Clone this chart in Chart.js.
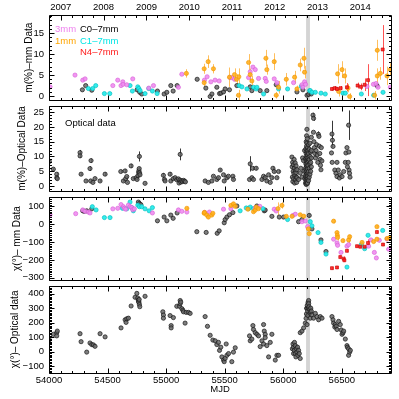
<!DOCTYPE html>
<html>
<head>
<meta charset="utf-8">
<script src="https://cdn.jsdelivr.net/npm/chart.js@4"></script>
<style>
html,body{margin:0;padding:0;background:#fff;}
#wrap{position:relative;width:399px;height:399px;overflow:hidden;}
canvas{position:absolute;left:0;}
</style>
</head>
<body>
<div id="wrap">
  <canvas id="c4" width="399" height="124" style="top:275px"></canvas>
  <canvas id="c3" width="399" height="105" style="top:186px"></canvas>
  <canvas id="c2" width="399" height="107" style="top:95px"></canvas>
  <canvas id="c1" width="399" height="111" style="top:0px"></canvas>
</div>
<script>
/* ---------- AXES ---------- */
const mjdMin = 54000, mjdMax = 56920;
const mjdTicks = [54000, 54500, 55000, 55500, 56000, 56500];
const yearLabels = ["2007","2008","2009","2010","2011","2012","2013","2014"];
const yearMJD = [54101, 54466, 54832, 55197, 55562, 55927, 56293, 56658];
const flareBand = [56195, 56228];

/* ---------- PANEL 1 : m(%) mm  [MJD, m, err] ---------- */
const pol3mm = [[54009,2.2],[54222,5.0],[54288,3.8],[54308,4.1],[54545,2.5],[54587,3.8],[54615,2.5],[54630,3.4],[54632,2.8],[54664,2.7],[54715,4.1],[54852,1.9],[54892,2.5],[55105,2.1],[55134,5.2],[55327,3.8],[55350,4.6],[55382,3.4],[55418,3.8],[55453,3.6],[55547,4.4],[55561,4.4],[55584,4.0],[55704,4.4],[55718,5.8],[55741,6.9],[55761,6.3],[55789,4.2],[55846,4.2],[55855,3.5],[55923,4.1],[55946,3.2],[56088,3.2],[56160,2.7],[56168,2.1],[56182,3.4],[56190,2.8],[56715,2.3],[56770,2.8],[56792,3.0],[56809,2.1],[56914,2.1]];
const pol1mm = [[55173,5.4,1.0],[55325,6.5,1.2],[55325,3.2,0.8],[55359,8.2,1.5],[55404,6.5,1.1],[55541,4.5,2.3],[55584,5.1,1.5],[55601,4.0,1.2],[55621,4.6,2.0],[55618,0.2,1.3],[55704,8.0,2.0],[55718,5.1,1.5],[55732,3.6,1.2],[55852,9.0,2.0],[55860,6.3,1.2],[55923,8.2,2.0],[55940,0.2,0.8],[55960,2.1,1.5],[56026,4.0,1.5],[56097,4.5,1.5],[56117,1.7,0.8],[56145,7.4,1.5],[56177,9.0,2.5],[56182,5.7,1.5],[56464,5.3,2.3],[56473,1.1,1.2],[56502,6.3,2.0],[56524,4.8,1.8],[56553,1.9,1.0],[56567,-0.1,0.8],[56780,0.2,1.0],[56803,4.8,1.8],[56803,10.9,2.5],[56829,5.4,1.5],[56886,4.8,2.2],[56915,6.3,1.5]];
const polC0 = [[54285,1.5],[54313,2.5],[54365,1.4],[54752,1.5],[54775,0.9],[54792,0.5],[54926,1.2],[54983,0.5],[55006,0.9],[55040,2.5],[55060,1.2],[55094,2.5],[55265,4.0],[55339,1.9],[55376,-0.1],[55391,0.5],[55433,2.1],[55456,0.6],[55468,0.7],[55490,1.0],[55504,1.7],[55541,1.5],[55604,2.5],[55718,2.2],[55732,1.3],[55803,1.3],[55860,1.3],[55940,2.7],[56117,1.0],[56168,1.5],[56203,0.2],[56217,0.4],[56239,0.5],[56800,2.5]];
const polC1 = [[54336,1.8],[54373,1.8],[54399,2.5],[54473,0.6],[54519,0.6],[54692,2.5],[54712,1.2],[54758,2.2],[54767,1.8],[54778,1.3],[54820,0.6],[54852,1.8],[54883,1.2],[54923,0.6],[55624,2.5],[55647,2.2],[55690,1.7],[55746,2.1],[55769,1.7],[55775,2.1],[55832,0.5],[55960,1.7],[56037,1.7],[56154,2.3],[56225,1.3],[56231,1.3],[56245,0.9],[56274,0.9],[56322,0.7],[56359,0.5],[56510,0.7],[56530,0.7],[56667,0.5],[56772,0.2],[56852,0.9]];
const polN4 = [[56416,1.7,0.4],[56440,1.9,0.5],[56459,1.7,0.5],[56490,1.9,0.5],[56544,2.1,1.0],[56635,2.5,0.7],[56664,2.2,0.8],[56695,2.7,1.5],[56724,3.8,3.8],[56849,11.1,5.8]];

/* ---------- PANEL 2 : m(%) optical ---------- */
const optPolA = [[54003,8.3,1.1],[54037,5.7,0.3],[54066,4.0,0.6],[54066,2.8,0.5],[54071,2.5,0.6],[54265,11.3,0.9],[54265,10.2,0.7],[54274,4.0,0.3],[54316,1.7,0.2],[54350,5.9,0.8],[54359,8.6,0.7],[54356,1.7,0.2],[54375,1.2,0.2],[54393,2.5,0.3],[54436,1.7,0.3],[54479,4.0,0.6],[54613,4.9,0.5],[54650,5.1,0.6],[54635,1.7,0.3],[54655,2.5,0.3],[54664,3.2,0.3],[54670,1.2,0.2],[54701,6.8,0.7],[54720,2.5,0.3],[54745,2.8,0.3],[54752,2.2,0.3],[54760,3.5,0.4],[54765,4.6,0.4],[54768,5.2,0.4],[54770,5.9,0.5],[54774,4.4,0.4],[54777,3.8,0.4],[54772,10.0,1.7],[54820,0.9,0.2]];
const optPolB = [[54977,3.6,0.8],[54986,2.2,0.3],[54991,1.7,0.3],[55034,4.0,0.7],[55040,1.7,0.3],[55062,2.5,0.3],[55077,2.8,0.3],[55091,2.1,0.3],[55105,2.4,0.3],[55110,1.0,0.2],[55118,2.0,0.3],[55120,10.7,2.0],[55125,1.3,0.2],[55132,1.8,0.2],[55140,1.5,0.2],[55150,1.9,0.2],[55158,1.6,0.2],[55165,1.4,0.2],[55333,1.7,0.2],[55361,1.2,0.2],[55391,1.7,0.2],[55404,3.3,0.3],[55433,2.2,0.3],[55447,2.8,0.3],[55462,5.4,0.5],[55490,3.8,0.4],[55496,1.7,0.2],[55519,2.8,0.3],[55532,3.3,0.3],[55570,3.3,0.3],[55575,2.2,0.3],[55712,2.2,0.3],[55718,7.5,2.6],[55732,2.8,0.3],[55738,6.0,0.6],[55746,2.2,0.3],[55769,6.0,0.6],[55818,2.2,0.3],[55832,3.3,0.4],[55846,2.8,0.3],[55860,1.7,0.3],[55875,3.8,0.4],[55889,1.2,0.2],[55903,2.8,0.4],[55912,6.0,0.6],[55923,4.9,0.5],[55946,2.8,0.3],[55960,4.9,0.5]];
const optPolC = [[56074,9.8],[56076,6.5],[56078,3.0],[56080,8.0],[56082,1.5],[56085,5.0],[56087,7.2],[56089,2.5],[56091,4.2],[56093,9.0],[56095,6.0],[56097,1.0],[56100,3.5],[56102,7.8],[56104,5.2],[56106,2.2],[56108,4.5],[56110,6.8],[56112,3.0],[56114,1.2],[56116,5.5],[56118,2.8],[56131,2.2],[56145,4.4],[56150,6.0],[56160,3.0],[56165,9.5],[56173,8.6],[56178,5.0],[56182,12.0],[56185,2.5],[56190,1.0],[56190,3.5],[56190,6.0],[56190,9.2],[56193,2.0],[56193,4.8],[56193,7.5],[56193,12.5],[56196,0.5],[56196,3.0],[56196,5.5],[56196,8.5],[56196,11.0],[56196,15.0],[56199,1.5],[56199,4.0],[56199,6.8],[56199,10.0],[56199,13.5],[56199,17.0],[56202,0.8],[56202,2.5],[56202,5.0],[56202,7.5],[56202,9.5],[56202,12.0],[56202,14.5],[56202,19.2],[56205,2.0],[56205,4.2],[56205,6.5],[56205,8.8],[56205,11.5],[56205,16.0],[56208,1.0],[56208,3.2],[56208,5.8],[56208,8.0],[56208,10.5],[56208,13.0],[56212,2.5],[56212,4.5],[56212,7.0],[56212,9.5],[56212,12.0],[56216,1.8],[56216,5.0],[56216,8.5],[56216,11.0],[56216,14.0],[56222,3.0],[56222,6.0],[56222,9.0],[56222,12.5],[56228,4.0],[56228,7.5],[56228,10.0],[56228,14.5],[56234,5.0],[56234,8.0],[56234,11.5],[56240,6.5],[56240,9.5],[56240,12.0],[56240,16.5]];
const optPolD = [[56254,24.0,0.8],[56259,22.9,0.8],[56258,18.2],[56262,15.0],[56266,13.0],[56270,11.0],[56275,9.5],[56280,12.0],[56285,14.0],[56290,10.5],[56295,8.0],[56300,17.5,1.0],[56305,16.8],[56308,13.5],[56312,11.0],[56315,9.0],[56318,7.0],[56322,5.5],[56325,13.0],[56330,8.5],[56416,17.6,4.5],[56420,15.5],[56425,13.4],[56412,11.2],[56418,8.0],[56440,5.4],[56450,4.3],[56459,3.2],[56470,5.4],[56459,8.0],[56480,2.7],[56487,3.8],[56502,3.2],[56516,4.9],[56530,8.0],[56535,11.2],[56544,13.0],[56558,20.6,5.0],[56560,11.5],[56555,8.0],[56562,5.4],[56566,4.3],[56570,3.0],[56548,6.5]];

/* ---------- PANEL 3 : EVPA mm ---------- */
const evpa3mm = [[54009,53],[54228,59],[54288,80],[54308,72],[54336,68],[54350,63],[54545,86],[54587,89],[54615,110],[54635,98],[54644,89],[54655,84],[54678,107],[54692,98],[54707,93],[54715,81],[54729,86],[54883,63],[55105,80],[55134,72],[55177,68],[55330,66],[55370,68],[55490,84],[55553,87],[55760,90],[55800,100],[55923,84],[55940,74],[56083,49],[56103,56],[56160,14],[56188,18],[56208,-14],[56430,-84],[56459,-105],[56464,-118],[56493,-158],[56544,-123],[56558,-114],[56729,-123],[56749,-88],[56778,-158],[56795,-189],[56820,-90],[56886,-83],[56900,-140]];
const evpa1mm = [[55177,89,8],[55325,61,8],[55327,66,6],[55347,51,8],[55361,40,8],[55390,51,8],[55399,61,8],[55553,105,6],[55575,114,8],[55590,100,6],[55698,84,6],[55746,70,8],[55761,79,6],[55769,96,6],[55789,87,8],[55955,87,35],[55989,105,18],[56026,44,8],[56075,44,6],[56145,53,8],[56175,45,8],[56215,-26,8],[56222,-53,8],[56430,17,12],[56459,-47,10],[56462,-62,10],[56464,-74,18],[56510,-92,9],[56558,-88,28],[56567,-70,10],[56673,-102,8],[56772,-97,8],[56800,-14,8],[56800,-84,8],[56886,-80,8],[56910,-75,8]];
const evpaC0 = [[54288,75],[54301,72],[54322,75],[54365,86],[54763,124],[54772,116],[54784,110],[54926,19],[54983,40],[55006,19],[55040,51],[55060,33],[55094,63],[55262,-42],[55342,-46],[55436,-51],[55453,-37],[55496,8],[55504,26],[55519,40],[55541,53],[55570,65],[55604,102],[55775,102],[55838,75],[55846,79],[55903,44],[55966,40],[56003,40],[56131,14],[56160,26],[56222,49,10],[56245,-26],[56322,-88],[56365,-153]];
const evpaC1 = [[54370,98],[54402,80],[54473,37],[54521,37],[54627,89],[54664,86],[54692,124],[54707,93],[54720,75],[54758,107],[54772,98],[54792,98],[54820,86],[54855,75],[54883,93],[55632,75],[55684,91],[55704,87],[55718,96],[55746,87],[55826,87],[56037,26],[56231,14],[56245,-9],[56297,-47],[56322,-102],[56365,-167],[56544,-240],[56667,-114],[56695,-137],[56724,-62],[56849,-35]];
const evpaN4 = [[56416,-246,6],[56459,-242,6],[56487,-184,8],[56516,-193,12],[56522,-202,10],[56544,-149,8],[56630,-123,6],[56658,-126,6],[56695,-126,6],[56724,-105,20],[56800,-44,8],[56852,-114,6]];

/* ---------- PANEL 4 : EVPA optical ---------- */
const optEvpaA = [[54003,82],[54037,120],[54066,131],[54066,109],[54071,142],[54265,124],[54274,69],[54322,-3],[54350,60],[54365,49],[54379,47],[54393,37],[54436,124],[54479,102],[54615,164],[54650,220],[54658,202],[54664,227],[54678,231],[54701,315],[54735,375],[54750,402],[54758,370],[54763,355],[54765,345],[54768,340],[54770,360],[54772,325],[54775,310],[54820,382]];
const optEvpaB = [[54972,275],[54977,253],[54977,231],[55034,249],[55043,180],[55043,164],[55062,235],[55091,313],[55114,313],[55120,353],[55120,331],[55125,342],[55134,297],[55143,286],[55148,275],[55162,197],[55171,271],[55191,271],[55205,264],[55333,242],[55353,175],[55376,113],[55399,80],[55419,75],[55433,49],[55447,64],[55456,9],[55467,31],[55476,-36],[55490,-58],[55496,-69],[55504,-47],[55513,53],[55519,-25],[55533,-13],[55561,-69],[55575,-3],[55590,27]];
const optEvpaC = [[55712,109],[55718,75],[55732,87],[55741,180],[55746,153],[55761,131],[55775,120],[55789,109],[55803,35],[55818,75],[55832,187],[55838,142],[55846,120],[55846,97],[55832,53],[55860,42],[55875,-36],[55889,64],[55903,120],[55932,-58],[55946,-25],[55960,-25]];
const optEvpaD = [[56078,20],[56083,53],[56088,31],[56088,-13],[56094,9],[56096,64],[56103,42],[56103,-13],[56108,-36],[56111,20],[56117,-3],[56122,31],[56125,-25],[56131,9],[56137,-13],[56145,-47],[56145,131],[56160,142],[56174,164],[56188,197],[56195,230],[56198,260],[56200,300],[56203,297],[56203,187],[56205,320],[56208,280],[56210,250],[56212,340],[56215,300],[56217,353],[56217,331],[56220,310],[56225,290],[56228,265],[56231,275],[56231,231],[56235,300],[56240,280],[56245,253],[56259,231],[56274,264],[56288,242],[56302,220],[56316,242],[56331,231]];
const optEvpaE = [[56416,242],[56425,220],[56430,197],[56440,170],[56444,187],[56452,175],[56459,153],[56473,209],[56487,187],[56495,150],[56502,120],[56510,130],[56516,142],[56530,87],[56544,42],[56548,30],[56558,20],[56558,-25],[56567,-3],[56573,9]];

/* ---------- STYLES ---------- */
const C_VIOLET = "#ee82ee", C_ORANGE = "#ffa500", C_CYAN = "#00e5e5", C_RED = "#ff1a1a", C_BLACK = "#000";
const sty = {
  violet: {bg:"rgba(240,140,240,0.9)", bd:"rgba(215,95,215,0.9)", err:"rgba(238,130,238,0.8)"},
  orange: {bg:"rgba(255,175,30,0.9)", bd:"rgba(240,150,0,0.9)", err:"rgba(255,170,40,0.75)"},
  cyan:   {bg:"rgba(40,235,235,0.95)", bd:"rgba(0,190,190,0.9)", err:"rgba(0,210,210,0.8)"},
  red:    {bg:"rgba(255,30,30,0.9)", bd:"rgba(200,0,0,0.9)", err:"rgba(255,40,40,0.8)"},
  black:  {bg:"rgba(105,105,105,0.85)", bd:"#151515", err:"rgba(20,20,20,0.85)"}
};

function ds(arr, s, shape){
  return {
    data: arr.map(p=>({x:p[0], y:p[1]})),
    errs: arr.map(p=>p[2]||0),
    errColor: s.err,
    backgroundColor: s.bg, borderColor: s.bd, borderWidth: 0.7,
    pointRadius: 2.1, pointStyle: shape||"circle",
    xAxisID: "x", yAxisID: "y"
  };
}

/* ---------- FRAME / TICKS / ERROR BARS ---------- */
const framePlugin = {
  id: "frame",
  beforeDatasetsDraw(chart, args, o){
    const {ctx, chartArea:a} = chart;
    const x = chart.scales.x, y = chart.scales.y;
    ctx.save();
    ctx.beginPath(); ctx.rect(a.left, a.top, a.width, a.height); ctx.clip();
    const b0 = x.getPixelForValue(flareBand[0]), b1 = x.getPixelForValue(flareBand[1]);
    ctx.fillStyle = "#d4d4d4";
    ctx.fillRect(b0, a.top, b1-b0, a.height);
    ctx.lineWidth = 1;
    chart.data.datasets.forEach(d=>{
      ctx.strokeStyle = d.errColor;
      d.data.forEach((p,j)=>{
        const e = d.errs[j];
        if(!e) return;
        const px = Math.round(x.getPixelForValue(p.x)) + 0.5;
        ctx.beginPath();
        ctx.moveTo(px, y.getPixelForValue(p.y - e));
        ctx.lineTo(px, y.getPixelForValue(p.y + e));
        ctx.stroke();
      });
    });
    ctx.restore();
  },
  afterDraw(chart, args, o){
    const {ctx, chartArea:a} = chart;
    const x = chart.scales.x, y = chart.scales.y;
    const L = Math.round(a.left)+0.5, R = Math.round(a.right)+0.5;
    const T = Math.round(a.top)+0.5, B = Math.round(a.bottom)+0.5;
    ctx.save();
    ctx.strokeStyle = "#000"; ctx.lineWidth = 1;
    ctx.beginPath();
    ctx.rect(L, T, R-L, B-T);
    const seg = (x1,y1,x2,y2)=>{ ctx.moveTo(x1,y1); ctx.lineTo(x2,y2); };
    for(let v = Math.ceil(mjdMin/100)*100; v <= mjdMax; v += 100){
      const px = Math.round(x.getPixelForValue(v)) + 0.5;
      const len = v % 500 === 0 ? 5 : 2.5;
      seg(px, B, px, B-len);
      if(!o.years) seg(px, T, px, T+len);
    }
    if(o.years){
      const starts = [yearMJD[0]-365].concat(yearMJD);
      starts.forEach((s,k)=>{
        for(let q = 0; q < 4; q++){
          const v = s + q*91.3;
          if(v < mjdMin || v > mjdMax) continue;
          const px = Math.round(x.getPixelForValue(v)) + 0.5;
          seg(px, T, px, T + (q === 0 ? 5 : 2.5));
        }
      });
    }
    for(let v = Math.ceil(y.min/o.yMinor)*o.yMinor; v <= y.max; v += o.yMinor){
      const py = Math.round(y.getPixelForValue(v)) + 0.5;
      const len = Math.abs(v % o.yMajor) < 1e-6 ? 5 : 2.5;
      seg(L, py, L+len, py);
      seg(R, py, R-len, py);
    }
    ctx.stroke();
    ctx.font = '9.5px "Liberation Sans", Arial, sans-serif';
    ctx.textBaseline = "middle"; ctx.textAlign = "left";
    (o.texts||[]).forEach(t=>{
      ctx.fillStyle = t.color;
      ctx.fillText(t.text, a.left + t.dx, a.top + t.dy);
    });
    ctx.restore();
  }
};

Chart.defaults.font.family = '"Liberation Sans", Arial, Helvetica, sans-serif';
Chart.defaults.font.size = 9.5;
Chart.defaults.color = "#000";

const minus = v => v < 0 ? "\u2212" + Math.abs(v) : String(v);

function yScale(min, max, ticks, title, titlePad){
  return {
    type: "linear", position: "left", min, max,
    grid: {display:false, drawTicks:false}, border: {display:false},
    ticks: {padding: 5, callback: minus},
    afterBuildTicks: s => { s.ticks = ticks.map(v=>({value:v})); },
    afterFit: s => { s.width = 49; },
    title: {display:true, text:title, font:{size:10}, padding:{top:titlePad, bottom:0}}
  };
}
const hiddenX = {type:"linear", min:mjdMin, max:mjdMax, display:false};

function panel(id, datasets, scales, pad, frame){
  return new Chart(document.getElementById(id), {
    type: "scatter",
    data: {datasets},
    options: {
      responsive: false, animation: false, events: [],
      layout: {padding: {left:0, right:8, top:pad[0], bottom:pad[1]}},
      plugins: {legend:{display:false}, tooltip:{enabled:false}, frame},
      scales
    },
    plugins: [framePlugin]
  });
}

/* ---------- PANELS ---------- */
panel("c1",
  [ds(polN4, sty.red, "rect"), ds(pol1mm, sty.orange), ds(pol3mm, sty.violet), ds(polC1, sty.cyan), ds(polC0, sty.black)],
  {
    x: hiddenX,
    xTop: {
      type:"linear", position:"top", min:mjdMin, max:mjdMax,
      grid:{display:false, drawTicks:false}, border:{display:false},
      ticks:{padding:2, maxRotation:0, autoSkip:false, callback: v => yearLabels[yearMJD.indexOf(v)]},
      afterBuildTicks: s => { s.ticks = yearMJD.map(v=>({value:v})); },
      afterFit: s => { s.height = 15; }
    },
    y: yScale(-1, 19.3, [0,5,10,15], "m(%)\u2013mm Data", 23)
  },
  [0, 8],
  {yMinor:1, yMajor:5, years:true, texts:[
    {text:"3mm", color:C_VIOLET, dx:6, dy:14},
    {text:"C0\u20137mm", color:C_BLACK, dx:31, dy:14},
    {text:"1mm", color:C_ORANGE, dx:6, dy:26},
    {text:"C1\u20137mm", color:C_CYAN, dx:31, dy:26},
    {text:"N4\u20137mm", color:C_RED, dx:31, dy:37}
  ]}
);

panel("c2",
  [ds(optPolA.concat(optPolB, optPolC, optPolD), sty.black)],
  {x: hiddenX, y: yScale(-1.8, 27.2, [0,5,10,15,20,25], "m(%)\u2013Optical Data", 16)},
  [8, 8],
  {yMinor:1, yMajor:5, texts:[{text:"Optical data", color:C_BLACK, dx:16, dy:18}]}
);

panel("c3",
  [ds(evpaN4, sty.red, "rect"), ds(evpa1mm, sty.orange), ds(evpa3mm, sty.violet), ds(evpaC1, sty.cyan), ds(evpaC0, sty.black)],
  {x: hiddenX, y: yScale(-314, 154, [-300,-200,-100,0,100], "\u03c7(\u00b0)\u2013 mm Data", 11)},
  [8, 8],
  {yMinor:10, yMajor:100}
);

panel("c4",
  [ds(optEvpaA.concat(optEvpaB, optEvpaC, optEvpaD, optEvpaE), sty.black)],
  {
    x: {
      type:"linear", position:"bottom", min:mjdMin, max:mjdMax,
      grid:{display:false, drawTicks:false}, border:{display:false},
      ticks:{padding:2, maxRotation:0, autoSkip:false, callback: v => String(v)},
      afterBuildTicks: s => { s.ticks = mjdTicks.map(v=>({value:v})); },
      afterFit: s => { s.height = 26; },
      title:{display:true, text:"MJD", font:{size:9.5}, padding:{top:0, bottom:4}}
    },
    y: yScale(-147, 455, [-100,0,100,200,300,400], "\u03c7(\u00b0)\u2013 Optical data", 9)
  },
  [8, 0],
  {yMinor:10, yMajor:100}
);
</script>
</body>
</html>
